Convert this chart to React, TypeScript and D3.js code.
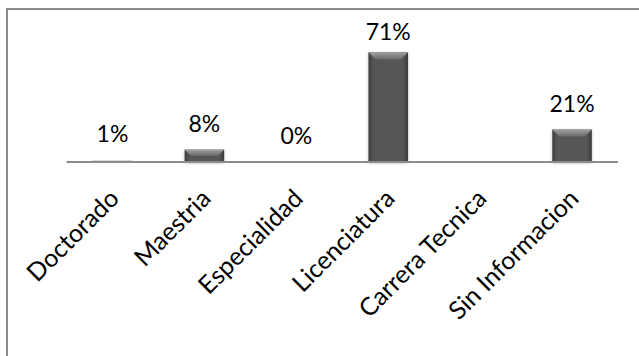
import React from "react";
import * as d3 from "d3";

const categories = ["Doctorado", "Maestria", "Especialidad", "Licenciatura", "Carrera Tecnica", "Sin Informacion"];
const values: (number | null)[] = [1, 8, 0, 71, null, 21];
const valueLabels = ["1%", "8%", "0%", "71%", "", "21%"];

const W = 639;
const H = 356;

export default function App() {
  const x = d3.scaleBand<string>().domain(categories).range([66.5, 618]).paddingInner(0.57).paddingOuter(0.285);
  const y = d3.scaleLinear().domain([0, 80]).range([162, 38.4]);
  const bw = x.bandwidth();
  const font = "Lato, 'Open Sans', sans-serif";

  return (
    <svg width={W} height={H} style={{ position: "absolute", left: 0, top: 0, background: "#fff" }} fontFamily={font}>
      <defs>
        <linearGradient id="body" x1="0" x2="1" y1="0" y2="0">
          <stop offset="0" stopColor="#3c3c3c" />
          <stop offset="0.12" stopColor="#555" />
          <stop offset="0.5" stopColor="#575757" />
          <stop offset="0.88" stopColor="#555" />
          <stop offset="1" stopColor="#3a3a3a" />
        </linearGradient>
        <linearGradient id="topBevel" x1="0" x2="0" y1="0" y2="1">
          <stop offset="0" stopColor="#a0a0a0" />
          <stop offset="1" stopColor="#6a6a6a" />
        </linearGradient>
        <filter id="shadow" x="-30%" y="-10%" width="160%" height="130%">
          <feGaussianBlur in="SourceAlpha" stdDeviation="1.5" />
          <feOffset dx="0" dy="1" result="b" />
          <feComponentTransfer>
            <feFuncA type="linear" slope="0.3" />
          </feComponentTransfer>
          <feMerge>
            <feMergeNode />
            <feMergeNode in="SourceGraphic" />
          </feMerge>
        </filter>
      </defs>

      <rect x={7} y={9} width={W + 20} height={H + 20} fill="none" stroke="#8a8a8a" strokeWidth={2} />

      {categories.map((c, i) => {
        const v = values[i];
        if (v === null || v <= 0) return null;
        const x0 = x(c)!;
        const x1 = x0 + bw;
        const top = y(v);
        const bot = y(0);
        const h = bot - top;
        const b = Math.min(7, h / 2);
        if (h < 3) {
          return <rect key={c} x={x0} y={top} width={bw} height={h} fill="#b8b8b8" />;
        }
        return (
          <g key={c} filter="url(#shadow)">
            <rect x={x0} y={top} width={bw} height={h} fill="url(#body)" />
            <polygon
              points={`${x0},${top} ${x1},${top} ${x1 - b},${top + b} ${x0 + b},${top + b}`}
              fill="url(#topBevel)"
            />
          </g>
        );
      })}

      <line x1={66.5} x2={618} y1={162} y2={162} stroke="#8c8c8c" strokeWidth={2} />

      {categories.map((c, i) => {
        const v = values[i];
        if (v === null) return null;
        const cx = x(c)! + bw / 2;
        const ty = Math.max(y(v) - 18, 40);
        return (
          <text key={"v" + c} x={cx} y={ty} textAnchor="middle" fontSize={23} fill="#000">
            {valueLabels[i]}
          </text>
        );
      })}

      {categories.map((c) => {
        const cx = x(c)! + bw / 2;
        const ax = cx + 8;
        const ay = 200;
        return (
          <text
            key={"c" + c}
            x={ax}
            y={ay}
            textAnchor="end"
            fontSize={25}
            fill="#000"
            transform={`rotate(-45 ${ax} ${ay})`}
          >
            {c}
          </text>
        );
      })}
    </svg>
  );
}
